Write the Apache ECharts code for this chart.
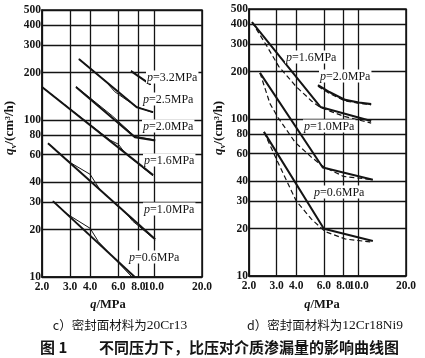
<!DOCTYPE html>
<html><head><meta charset="utf-8">
<script src="https://cdn.jsdelivr.net/npm/echarts@6/dist/echarts.min.js"></script>
<style>html,body{margin:0;padding:0;background:#fff}#c{width:425px;height:358px}</style>
</head><body><div id="c"></div>
<script>
// tick labels
const xTicks = [2, 3, 4, 6, 8, 10, 20];
const yTicks = [10, 20, 30, 40, 60, 80, 100, 200, 300, 400, 500];

// chart c) 20Cr13 : [q (MPa), qv (cm3/h)]  thick / thin lines
const c_p32_thick = [[7.2, 204], [9.5, 168]];
const c_p32_thin  = [[7.2, 206], [8.3, 185], [9.6, 167]];
const c_p25_thick = [[3.4, 244], [7.85, 120], [9.9, 112]];
const c_p25_thin  = [[3.4, 244], [5.0, 176], [5.7, 151], [6.6, 136], [7.85, 121], [9.9, 111]];
const c_p20_thick = [[3.26, 162], [7.62, 77.6], [10.2, 74]];
const c_p20_thin  = [[3.26, 163], [5.5, 106], [7.6, 78.5], [10.2, 74.5]];
const c_p16_thick = [[2.0, 162], [9.9, 44.5]];
const c_p16_thin  = [[2.0, 162], [5.3, 74.5], [6.0, 70], [6.6, 61.5], [9.9, 44]];
const c_p10_thick = [[2.18, 71], [10.2, 17.4]];
const c_p10_thin  = [[2.18, 71], [3.0, 53.5], [4.0, 45], [4.6, 36], [6.8, 25], [7.4, 22.6], [8.0, 21.2], [10.2, 17.2]];
const c_p06_thick = [[2.34, 30.4], [7.6, 10]];
const c_p06_thin  = [[2.34, 30.4], [2.9, 25], [4.0, 20.4], [4.5, 16.8], [7.3, 10]];

// chart d) 12Cr18Ni9 : solid / dashed lines
const d_p16_solid = [[2.09, 413], [5.7, 119], [12.0, 97]];
const d_p16_dash  = [[2.09, 413], [2.6, 290], [3.1, 215], [4.0, 160], [5.0, 130], [5.7, 118], [8.0, 104], [12.0, 94]];
const d_p20_solid = [[5.5, 164], [6.5, 148], [8.2, 132], [10, 127], [12, 124]];
const d_p20_dash  = [[5.5, 161], [6.5, 145], [8.2, 130], [10, 125.5], [12, 123]];
const d_p10_solid = [[2.35, 196], [5.9, 49], [12.3, 41]];
const d_p10_dash  = [[2.35, 196], [2.72, 125], [3.06, 102], [3.93, 71], [5.0, 57], [5.9, 50], [8.0, 43], [12.3, 41]];
const d_p06_solid = [[2.49, 82.6], [6.0, 20], [12.3, 16.7]];
const d_p06_dash  = [[2.49, 82.6], [3.0, 55], [4.0, 30], [5.0, 23], [6.1, 19.2], [8.2, 17.2], [12.3, 16.4]];

const cLabels = ['3.2', '2.5', '2.0', '1.6', '1.0', '0.6'];
const dLabels = ['1.6', '2.0', '1.0', '0.6'];

const serif = '"Liberation Serif","DejaVu Serif",serif';
const cjk = '"Noto Sans CJK SC","Noto Sans",sans-serif';
const ink = '#141414';

function line(data, g, w, dashed) {
  return {
    type: 'line', xAxisIndex: g, yAxisIndex: g, data: data, symbol: 'none',
    silent: true, animation: false, z: 3,
    lineStyle: { color: ink, width: w, type: dashed ? [5, 3] : 'solid' }
  };
}
function xAx(g) {
  return {
    type: 'log', gridIndex: g, min: 2, max: 20, logBase: 10,
    axisLine: { show: true, lineStyle: { color: ink, width: 1.5 } },
    axisTick: { show: false, customValues: xTicks },
    splitLine: { show: true, lineStyle: { color: ink, width: 1.3 } },
    axisLabel: { customValues: xTicks, margin: 4, color: ink, fontFamily: serif, fontSize: 11.5, fontWeight: 'bold',
      formatter: v => Number(v).toFixed(1) }
  };
}
function yAx(g) {
  return {
    type: 'log', gridIndex: g, min: 10, max: 500, logBase: 10,
    axisLine: { show: true, lineStyle: { color: ink, width: 1.5 } },
    axisTick: { show: false, customValues: yTicks },
    splitLine: { show: true, lineStyle: { color: ink, width: 1.3 } },
    axisLabel: { customValues: yTicks, margin: 1, color: ink, fontFamily: serif, fontSize: 11.5, fontWeight: 'bold',
      formatter: v => String(Math.round(v)) }
  };
}
function pLabel(txt, x, y) {
  return { type: 'text', x: x, y: y, z: 20,
    style: { text: '{i|p}=' + txt + 'MPa', fill: ink, font: '12px ' + serif, align: 'left', verticalAlign: 'middle',
      backgroundColor: '#fff', padding: [1, 1, 0, 1],
      rich: { i: { fontStyle: 'italic', fontFamily: serif, fontSize: 12, fill: ink } } } };
}
function yName(x, y) {
  return { type: 'text', x: x, y: y, rotation: Math.PI / 2, z: 20,
    style: { text: '{i|q}{s|v}{n|/(cm³/h)}', fill: ink, align: 'center', verticalAlign: 'middle',
      rich: {
        i: { fontStyle: 'italic', fontWeight: 'bold', fontFamily: serif, fontSize: 13, lineHeight: 16, fill: ink },
        s: { fontWeight: 'bold', fontFamily: serif, fontSize: 8, lineHeight: 16, verticalAlign: 'bottom', fill: ink },
        n: { fontWeight: 'bold', fontFamily: serif, fontSize: 13, lineHeight: 16, fill: ink }
      } } };
}
function xName(x, y) {
  return { type: 'text', x: x, y: y, z: 20,
    style: { text: '{i|q}{n|/MPa}', fill: ink, align: 'center', verticalAlign: 'middle',
      rich: {
        i: { fontStyle: 'italic', fontWeight: 'bold', fontFamily: serif, fontSize: 12.5, fill: ink },
        n: { fontWeight: 'bold', fontFamily: serif, fontSize: 12.5, fill: ink }
      } } };
}
function caption(x, y, a, b) {
  return { type: 'text', x: x, y: y, z: 20,
    style: { text: '{a|' + a + '}{b|' + b + '}', fill: ink, align: 'center', verticalAlign: 'middle',
      rich: {
        a: { fontFamily: cjk, fontSize: 12.5, fill: ink },
        b: { fontFamily: serif, fontSize: 13.5, fill: ink }
      } } };
}

const chart = echarts.init(document.getElementById('c'), null, { renderer: 'canvas' });
chart.setOption({
  animation: false,
  backgroundColor: '#fff',
  grid: [
    { left: 42, top: 10, width: 160, height: 267, show: true, borderColor: ink, borderWidth: 1.5 },
    { left: 249, top: 9, width: 157, height: 267, show: true, borderColor: ink, borderWidth: 1.5 }
  ],
  xAxis: [xAx(0), xAx(1)],
  yAxis: [yAx(0), yAx(1)],
  series: [
    line(c_p32_thick, 0, 2), line(c_p32_thin, 0, 1),
    line(c_p25_thick, 0, 2), line(c_p25_thin, 0, 1),
    line(c_p20_thick, 0, 2), line(c_p20_thin, 0, 1),
    line(c_p16_thick, 0, 2), line(c_p16_thin, 0, 1),
    line(c_p10_thick, 0, 2), line(c_p10_thin, 0, 1),
    line(c_p06_thick, 0, 2), line(c_p06_thin, 0, 1),
    line(d_p16_solid, 1, 2), line(d_p16_dash, 1, 1.2, true),
    line(d_p20_solid, 1, 2.2), line(d_p20_dash, 1, 1.2, true),
    line(d_p10_solid, 1, 2), line(d_p10_dash, 1, 1.2, true),
    line(d_p06_solid, 1, 2), line(d_p06_dash, 1, 1.2, true)
  ],
  graphic: [
    pLabel(cLabels[0], 146, 77), pLabel(cLabels[1], 142, 99), pLabel(cLabels[2], 142, 126),
    pLabel(cLabels[3], 143, 160), pLabel(cLabels[4], 143, 209), pLabel(cLabels[5], 128, 257),
    pLabel(dLabels[0], 285, 57), pLabel(dLabels[1], 319, 76), pLabel(dLabels[2], 303, 126),
    pLabel(dLabels[3], 313, 192),
    yName(10, 128), yName(219, 128),
    xName(108, 305), xName(322, 305),
    caption(120, 325, 'c）密封面材料为', '20Cr13'),
    caption(325, 325, 'd）密封面材料为', '12Cr18Ni9'),
    { type: 'text', x: 40, y: 347, style: { text: '图 1', fill: ink, font: 'bold 15px ' + cjk, align: 'left', verticalAlign: 'middle' } },
    { type: 'text', x: 399, y: 347, style: { text: '不同压力下，比压对介质渗漏量的影响曲线图', fill: ink, font: 'bold 15px ' + cjk, align: 'right', verticalAlign: 'middle' } }
  ]
});
</script></body></html>
